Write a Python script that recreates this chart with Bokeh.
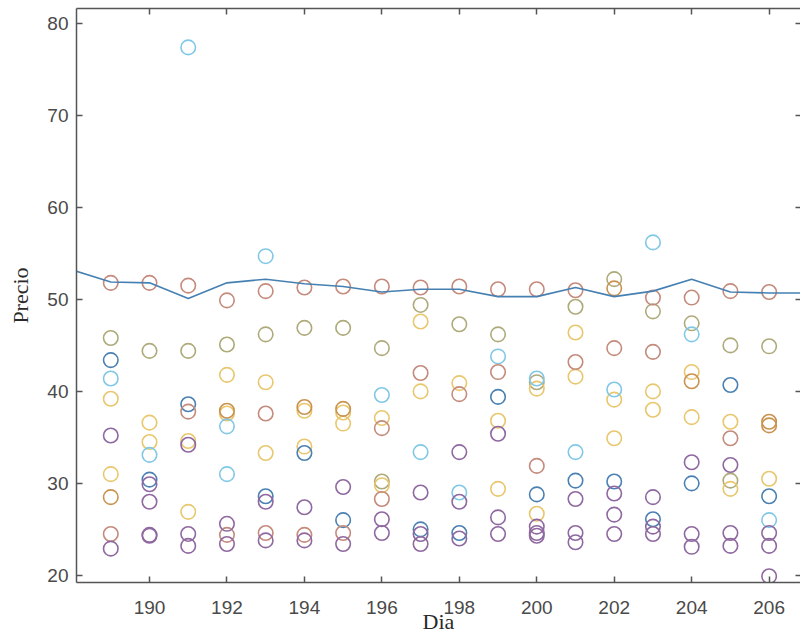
from bokeh.plotting import figure
from bokeh.models import Range1d, FixedTicker, LinearAxis
from bokeh.embed import file_html
from bokeh.resources import INLINE

# ---------------- data ----------------
x_ticks = [190, 192, 194, 196, 198, 200, 202, 204, 206]
y_ticks = [20, 30, 40, 50, 60, 70, 80]

line_days = [188, 189, 190, 191, 192, 193, 194, 195, 196, 197, 198, 199, 200,
             201, 202, 203, 204, 205, 206, 207]
line_vals = [53.2, 51.9, 51.8, 50.1, 51.8, 52.2, 51.7, 51.4, 50.8, 51.1, 51.1,
             50.3, 50.3, 51.3, 50.3, 50.9, 52.2, 50.8, 50.7, 50.7]

rose_x = [189, 190, 191, 192, 193, 194, 195, 196, 197, 198, 199, 200, 201, 202,
          203, 204, 205, 206, 191, 193, 196, 196, 197, 198, 199, 200, 201, 203,
          205, 189, 192, 193, 194, 195]
rose_y = [51.8, 51.8, 51.5, 49.9, 50.9, 51.3, 51.4, 51.4, 51.3, 51.4, 51.1, 51.1,
          51.0, 44.7, 50.2, 50.2, 50.9, 50.8, 37.8, 37.6, 36.0, 28.3, 42.0, 39.7,
          42.1, 31.9, 43.2, 44.3, 34.9, 24.5, 24.4, 24.6, 24.4, 24.6]

orange_x = [189, 192, 194, 195, 202, 204, 206, 206]
orange_y = [28.5, 37.9, 38.3, 38.1, 51.2, 41.1, 36.7, 36.3]

olive_x = [189, 190, 191, 192, 193, 194, 195, 196, 197, 198, 199, 200, 201, 202,
           203, 204, 205, 206, 196, 205]
olive_y = [45.8, 44.4, 44.4, 45.1, 46.2, 46.9, 46.9, 44.7, 49.4, 47.3, 46.2, 41.0,
           49.2, 52.2, 48.7, 47.4, 45.0, 44.9, 30.2, 30.3]

yellow_x = [189, 189, 190, 190, 191, 191, 192, 192, 193, 193, 194, 194, 195, 195,
            196, 196, 197, 197, 198, 199, 199, 200, 200, 201, 201, 202, 202, 203,
            203, 204, 204, 205, 205, 206]
yellow_y = [39.2, 31.0, 36.6, 34.5, 34.6, 26.9, 41.8, 37.6, 41.0, 33.3, 37.9, 34.0,
            37.7, 36.5, 37.1, 29.8, 47.6, 40.0, 40.9, 36.8, 29.4, 40.3, 26.7, 46.4,
            41.6, 39.1, 34.9, 40.0, 38.0, 42.1, 37.2, 36.7, 29.4, 30.5]

cyan_x = [189, 190, 191, 192, 193, 196, 197, 198, 199, 200, 201, 202, 203, 204,
          206, 192]
cyan_y = [41.4, 33.1, 77.4, 36.2, 54.7, 39.6, 33.4, 29.0, 43.8, 41.4, 33.4, 40.2,
          56.2, 46.2, 26.0, 31.0]

blue_x = [189, 190, 191, 193, 194, 195, 197, 198, 199, 200, 201, 202, 203, 204,
          205, 206]
blue_y = [43.4, 30.4, 38.6, 28.6, 33.3, 26.0, 25.0, 24.6, 39.4, 28.8, 30.3, 30.2,
          26.1, 30.0, 40.7, 28.6]

purple_x = [189, 189, 190, 190, 190, 190, 191, 191, 191, 192, 192, 193, 193, 194,
            194, 195, 195, 196, 196, 197, 197, 197, 198, 198, 198, 199, 199, 199,
            200, 200, 200, 201, 201, 201, 202, 202, 202, 203, 203, 203, 204, 204,
            204, 205, 205, 205, 206, 206, 206]
purple_y = [35.2, 22.9, 29.9, 28.0, 24.4, 24.3, 34.2, 24.5, 23.2, 25.6, 23.4, 28.0,
            23.8, 27.4, 23.8, 29.6, 23.4, 26.1, 24.6, 29.0, 24.5, 23.4, 33.4, 28.0,
            24.0, 35.4, 26.3, 24.5, 25.3, 24.6, 24.3, 28.3, 24.6, 23.6, 28.9, 26.6,
            24.5, 28.5, 25.3, 24.5, 32.3, 24.5, 23.1, 32.0, 24.6, 23.2, 24.6, 23.2,
            19.9]

series = [
    (olive_x, olive_y, "#aeaa7a"),
    (yellow_x, yellow_y, "#e8c76e"),
    (cyan_x, cyan_y, "#80c8e6"),
    (blue_x, blue_y, "#4a80b2"),
    (orange_x, orange_y, "#c9924f"),
    (rose_x, rose_y, "#c48a7c"),
    (purple_x, purple_y, "#8f68a0"),
]

# ---------------- figure ----------------
p = figure(width=800, height=636,
           x_range=Range1d(188.115, 206.81), y_range=Range1d(19.22, 81.63),
           output_backend="svg", toolbar_location=None,
           min_border_left=76, min_border_right=0, min_border_top=8,
           min_border_bottom=52)
p.outline_line_color = None
p.xgrid.grid_line_color = None
p.ygrid.grid_line_color = None
p.background_fill_color = "white"
p.border_fill_color = "white"

axis_col = "#555555"
lab_col = "#4a4a4a"

for ax, ticks in ((p.xaxis[0], x_ticks), (p.yaxis[0], y_ticks)):
    ax.ticker = FixedTicker(ticks=ticks)
    ax.axis_line_color = axis_col
    ax.axis_line_width = 1.5
    ax.major_tick_line_color = axis_col
    ax.major_tick_line_width = 1.5
    ax.major_tick_in = 6
    ax.major_tick_out = 0
    ax.minor_tick_line_color = None
    ax.major_label_text_font = "Liberation Sans"
    ax.major_label_text_font_size = "19px"
    ax.major_label_text_color = lab_col
    ax.axis_label_text_font = "Liberation Serif"
    ax.axis_label_text_font_style = "normal"
    ax.axis_label_text_color = "#2a2a2a"
p.xaxis[0].major_label_standoff = 18
p.yaxis[0].major_label_standoff = 8
p.xaxis[0].axis_label = "Dia"
p.xaxis[0].axis_label_text_font_size = "22px"
p.xaxis[0].axis_label_standoff = -8
p.yaxis[0].axis_label = "Precio"
p.yaxis[0].axis_label_text_font_size = "22px"
p.yaxis[0].axis_label_standoff = 11

top = LinearAxis(ticker=FixedTicker(ticks=x_ticks), axis_line_color=axis_col,
                 axis_line_width=1.5, major_tick_line_color=axis_col,
                 major_tick_line_width=1.5, major_tick_in=6, major_tick_out=0,
                 minor_tick_line_color=None, major_label_text_font_size="1px",
                 major_label_text_color=None, major_label_standoff=0)
p.add_layout(top, "above")
right = LinearAxis(ticker=FixedTicker(ticks=y_ticks), axis_line_color=None,
                   major_tick_line_color=axis_col, major_tick_line_width=1.5,
                   major_tick_in=5, major_tick_out=0, minor_tick_line_color=None,
                   major_label_text_font_size="1px", major_label_text_color=None,
                   major_label_standoff=0)
p.add_layout(right, "right")

for xs, ys, col in series:
    p.scatter(x=xs, y=ys, marker="circle", size=14.5, fill_color=None,
              line_color=col, line_width=1.6)

p.line(x=line_days, y=line_vals, line_color="#4680b2", line_width=1.6)

open("out.html", "w").write(file_html(p, INLINE))
